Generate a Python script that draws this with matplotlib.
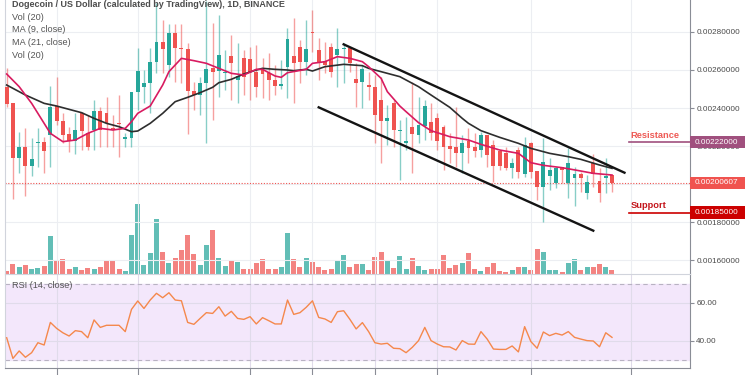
import matplotlib
matplotlib.use('Agg')
import matplotlib.pyplot as plt
import matplotlib.transforms as mtransforms
from matplotlib.patches import Rectangle
import numpy as np

plt.rcParams['font.family'] = ['Liberation Sans', 'DejaVu Sans']

# daily candles, prices in 1e-8 USD
opens = [250870, 242450, 213510, 219650, 209650, 221400, 221930, 225790, 241050, 233330,
         226310, 222800, 237190, 226660, 228420, 238420, 237540, 229650, 231930, 223680,
         224380, 248590, 250870, 253330, 264380, 274560, 262630, 279300, 271750, 270870,
         249120, 246840, 252980, 260870, 259650, 258240, 267370, 254730, 266140, 265610,
         259120, 260870, 258240, 254730, 251750, 261750, 267370, 271930, 264380, 280170,
         270520, 264910, 271930, 267890, 271050, 271400, 255090, 253860, 252100, 250870,
         244210, 233330, 242450, 228070, 221400, 230170, 225790, 230520, 232800, 234560,
         230170, 220000, 219300, 216140, 222800, 219300, 217890, 225790, 220520, 217540,
         216490, 208240, 217890, 205260, 221400, 207010, 198240, 204210, 200700, 209120,
         200700, 202980, 205260, 195440, 210870, 201580, 202980, 204730]
closes = [242100, 213510, 219650, 209650, 213160, 221930, 217540, 240700, 233330, 225790,
          222450, 228420, 228070, 219650, 238420, 228420, 231930, 228770, 231400, 224560,
          248590, 259650, 252980, 264380, 274910, 270870, 279300, 271400, 271230, 249120,
          246840, 252980, 260350, 259120, 267890, 258590, 263860, 256840, 256490, 259120,
          251230, 257890, 254730, 251580, 252450, 276140, 263510, 264380, 270870, 279300,
          263860, 262630, 259120, 270870, 271580, 263510, 253330, 260350, 250870, 236310,
          233330, 234560, 228420, 228420, 222630, 226310, 231050, 241050, 226660, 222800,
          219650, 218240, 216140, 221750, 218770, 217540, 225790, 215260, 209470, 209470,
          208240, 210870, 206490, 220520, 206490, 198240, 211400, 207370, 208240, 207370,
          210870, 205260, 202980, 201230, 205260, 195440, 204210, 200607]
highs = [260870, 242450, 227540, 229300, 224030, 229300, 224560, 251580, 256140, 237190,
         230170, 237540, 238070, 236310, 244210, 240700, 245960, 236310, 246840, 226660,
         248590, 271400, 260000, 271400, 295260, 286310, 284210, 284210, 284210, 274380,
         253860, 256490, 296500, 284560, 288950, 270520, 278420, 274030, 270520, 272280,
         273160, 266140, 268770, 262630, 265260, 281930, 287190, 275790, 286310, 291580,
         276660, 274910, 274030, 281930, 274030, 272280, 263510, 262630, 259120, 257370,
         256490, 241580, 244210, 233680, 235440, 253860, 245960, 244210, 242450, 237190,
         231050, 226660, 240700, 225790, 229300, 226660, 227540, 225790, 223160, 217890,
         219650, 213510, 219650, 224560, 222280, 207010, 224030, 213510, 209120, 209120,
         218770, 209120, 206490, 204730, 215790, 208240, 213510, 204730]
lows = [240700, 191930, 205610, 193680, 204380, 209120, 205610, 209120, 231050, 221400,
        217010, 215610, 217890, 217890, 217890, 219650, 219650, 219650, 214380, 219650,
        219650, 238940, 242450, 237540, 258240, 258240, 256490, 253860, 252980, 226310,
        238940, 236310, 221750, 233680, 245960, 249470, 244210, 242450, 246840, 244210,
        245960, 245090, 244210, 246840, 249820, 245090, 242450, 252980, 257370, 269650,
        254730, 258240, 256490, 251230, 252980, 259120, 240700, 239820, 244210, 221400,
        210870, 220520, 219650, 202100, 217890, 205610, 221400, 223160, 223160, 217890,
        207370, 210870, 209120, 205610, 210870, 214380, 214380, 209120, 201230, 207370,
        207370, 202980, 202980, 203860, 202980, 191580, 180170, 196840, 197720, 200350,
        192450, 188420, 195960, 191930, 198590, 190700, 195440, 195960]
volumes = [7, 27, 19, 25, 13, 15, 22, 112, 37, 42, 12, 18, 10, 15, 12, 19, 37, 37, 12, 8,
           115, 207, 25, 60, 163, 63, 30, 45, 70, 115, 58, 25, 85, 130, 45, 23, 38, 35, 13, 12,
           30, 43, 12, 12, 20, 120, 43, 20, 45, 35, 20, 10, 12, 40, 55, 18, 28, 27, 10, 50,
           63, 40, 15, 52, 12, 47, 22, 10, 12, 12, 55, 17, 25, 32, 62, 12, 8, 20, 30, 8,
           3, 10, 20, 20, 10, 73, 65, 10, 10, 3, 32, 43, 10, 20, 18, 28, 18, 10]
rsi = [41.7, 30.9, 34.8, 31.5, 33.9, 39.1, 37.9, 49.7, 46.6, 44.3, 42.6, 45.4, 44.9, 41.7,
       51.0, 47.1, 48.2, 48.2, 48.2, 44.9, 56.5, 60.9, 57.0, 61.4, 64.9, 62.6, 65.2, 61.4,
       61.0, 49.7, 48.7, 51.8, 54.8, 54.4, 57.9, 53.0, 55.5, 51.8, 51.3, 52.7, 48.9, 52.2,
       50.6, 48.9, 48.9, 61.4, 53.9, 54.8, 57.6, 61.0, 52.3, 51.5, 49.7, 55.3, 55.8, 51.3,
       46.3, 49.6, 44.9, 39.1, 38.4, 38.8, 36.2, 36.0, 33.9, 36.7, 40.2, 47.1, 40.2, 38.4,
       37.0, 36.9, 35.3, 40.2, 38.4, 38.3, 44.9, 41.0, 35.8, 35.6, 35.6, 37.4, 34.3, 47.5,
       39.7, 36.2, 44.7, 42.8, 44.0, 43.1, 44.9, 41.9, 41.0, 40.2, 40.0, 37.0, 44.3, 41.9]

# moving averages read at selected candles
ma9_idx = [0, 2, 4, 6, 7, 9, 11, 13, 15, 17, 19, 20, 21, 23, 25, 26, 28, 30, 32, 34, 36, 38,
           40, 41, 43, 44, 45, 48, 49, 51, 53, 55, 57, 58, 60, 61, 63, 64, 66, 68, 71, 74,
           76, 79, 82, 84, 86, 89, 92, 94, 97]
ma9_val = [257890, 251230, 242450, 231930, 226660, 222280, 223160, 226660, 229300, 228420,
           229300, 232800, 237190, 241050, 252100, 259120, 266140, 264910, 263510, 260870,
           258240, 257370, 260350, 260350, 256840, 256140, 258590, 260350, 263510, 264380,
           267020, 266140, 264380, 261750, 255610, 248590, 241050, 238070, 232280, 228070,
           224910, 223160, 220870, 217890, 216140, 211220, 209820, 208590, 206840, 205610,
           204730]
ma21_idx = [0, 3, 6, 8, 10, 12, 14, 16, 18, 20, 21, 23, 25, 27, 29, 31, 33, 34, 36, 38, 40,
            41, 43, 45, 46, 48, 49, 51, 54, 57, 58, 60, 62, 63, 65, 66, 68, 71, 73, 74, 76,
            79, 82, 84, 87, 90, 92, 95, 97]
ma21_val = [252100, 246840, 242450, 241050, 239290, 237540, 234560, 231930, 230170, 227540,
            227890, 231930, 237190, 243330, 245610, 248070, 250870, 253330, 255090, 257890,
            260000, 260870, 260350, 260000, 259650, 260350, 259470, 261750, 262980, 262280,
            260870, 259120, 257370, 256490, 252980, 251230, 246840, 240350, 234560, 231930,
            228070, 224560, 221400, 218770, 216140, 214380, 212980, 210000, 208240]

# channel drawn on the chart (candle index, price 1e-8)
upper_x = [54, 99]
upper_y = [273500, 205960]
lower_x = [50, 94]
lower_y = [240350, 175440]

grid_idx = [8, 21, 39, 49, 59, 69, 84, 100]
price_ticks = [160000, 180000, 200000, 220000, 240000, 260000, 280000]
hidden_tick = 200000   # label sits fully under the last-price tag
resistance = 222000
support = 185000
last_price = 200607

UP = '#26a69a'
DOWN = '#ef5350'
W, H = 750, 375


def fx(x):
    return x / W


def fy(y):
    return 1 - y / H


o = np.array(opens) / 1e8
c = np.array(closes) / 1e8
h = np.array(highs) / 1e8
l = np.array(lows) / 1e8
idx = np.arange(len(o))
colors = np.where(c >= o, UP, DOWN)

fig = plt.figure(figsize=(7.5, 3.75), dpi=100)
ax = fig.add_axes([fx(5), fy(273.5), fx(690) - fx(5), fy(0) - fy(273.5)])
ax_rsi = fig.add_axes([fx(5), fy(368.3), fx(690) - fx(5), fy(273.5) - fy(368.3)], sharex=ax)

# volume overlay
ax_vol = ax.twinx()
ax_vol.bar(idx, volumes, width=0.8, color=colors, alpha=0.72, linewidth=0)
ax_vol.set_ylim(0, 820)
ax_vol.set_yticks([])
for s in ax_vol.spines.values():
    s.set_visible(False)
ax.set_zorder(2)
ax_vol.set_zorder(1)
ax.patch.set_visible(False)

# candles
ax.vlines(idx, l, h, colors=colors, linewidth=1, alpha=0.55, zorder=3)
body = np.maximum(np.abs(c - o), 0.000005)
ax.bar(idx, body, bottom=np.minimum(o, c), width=0.62, color=colors, linewidth=0, zorder=4)

ax.plot(ma21_idx, np.array(ma21_val) / 1e8, color='#2e2e2e', lw=1.2, zorder=5)
ax.plot(ma9_idx, np.array(ma9_val) / 1e8, color='#d81b60', lw=1.2, zorder=5)
ax.plot(upper_x, np.array(upper_y) / 1e8, color='#141414', lw=1.7, zorder=6)
ax.plot(lower_x, np.array(lower_y) / 1e8, color='#141414', lw=1.7, zorder=6)

ax.axhline(last_price / 1e8, color=DOWN, lw=0.8, ls=(0, (1, 1.5)), zorder=2)

ax.set_xlim(-0.27, 109.5)
ax.set_ylim(0.0015290, 0.0029684)
ax.yaxis.tick_right()
ax.set_yticks(np.array(price_ticks) / 1e8)
ax.set_yticklabels(['' if p == hidden_tick else '{:.8f}'.format(p / 1e8) for p in price_ticks])
ax.tick_params(axis='y', length=3, color='#8a8d96', labelsize=5.9, labelcolor='#4a4a4a', pad=1.5)
ax.set_xticks(grid_idx)
ax.tick_params(axis='x', length=0, labelbottom=False)
ax.grid(True, color='#eceef2', lw=0.8)
ax.set_axisbelow(True)
ax.spines['top'].set_visible(False)
ax.spines['left'].set_color('#d1d4dc')
ax.spines['bottom'].set_color('#d1d4dc')
ax.spines['right'].set_color('#8a8d96')
for s in ax.spines.values():
    s.set_linewidth(0.8)

# price tags on the right scale
tr = mtransforms.blended_transform_factory(ax.transAxes, ax.transData)
half = 0.0000325


def tag(price, text, color):
    ax.add_patch(Rectangle((1.0, price - half), 0.0803, 2 * half, transform=tr,
                           facecolor=color, edgecolor='none', clip_on=False, zorder=10))
    ax.text(1.0073, price, text, transform=tr, color='white', fontsize=5.9,
            va='center', ha='left', clip_on=False, zorder=11)


tag(resistance / 1e8, '0.00222000', '#a0507e')
tag(last_price / 1e8, '0.00200607', '#f0534f')
tag(support / 1e8, '0.00185000', '#cc0000')

ax.plot([0.911, 1.0], [resistance / 1e8] * 2, transform=tr, color='#a0507e', lw=1.2,
        clip_on=False, zorder=9)
ax.plot([0.911, 1.0], [support / 1e8] * 2, transform=tr, color='#cc0000', lw=1.2,
        clip_on=False, zorder=9)
ax.annotate('Resistance', xy=(0.9134, resistance / 1e8), xycoords=tr, xytext=(0, 1.6),
            textcoords='offset points', va='bottom', ha='left', fontsize=6.7,
            fontweight='bold', color='#ee5a55', zorder=9)
ax.annotate('Support', xy=(0.9134, support / 1e8), xycoords=tr, xytext=(0, 1.6),
            textcoords='offset points', va='bottom', ha='left', fontsize=6.7,
            fontweight='bold', color='#c4161c', zorder=9)

# RSI pane
ax_rsi.axhspan(30, 70, color='#f3e7fb', zorder=0)
ax_rsi.axhline(70, color='#b8b2c2', lw=0.8, ls=(0, (4, 3)), zorder=1)
ax_rsi.axhline(30, color='#b8b2c2', lw=0.8, ls=(0, (4, 3)), zorder=1)
ax_rsi.plot(idx, rsi, color='#f5884c', lw=1.0, zorder=3)
ax_rsi.set_ylim(25.74, 75.25)
ax_rsi.yaxis.tick_right()
ax_rsi.set_yticks([40, 60])
ax_rsi.set_yticklabels(['40.00', '60.00'])
ax_rsi.tick_params(axis='y', length=3, color='#8a8d96', labelsize=5.9, labelcolor='#4a4a4a', pad=1.5)
ax_rsi.tick_params(axis='x', length=5, color='#8a8d96', labelbottom=False)
ax_rsi.grid(True, color='#e0dbea', lw=0.8, zorder=0.5)
ax_rsi.set_axisbelow(True)
ax_rsi.spines['top'].set_visible(False)
ax_rsi.spines['left'].set_color('#d1d4dc')
ax_rsi.spines['right'].set_color('#8a8d96')
ax_rsi.spines['bottom'].set_color('#8a8d96')
for s in ax_rsi.spines.values():
    s.set_linewidth(0.8)

# legend texts
fig.text(fx(11.7), fy(4.6), 'Dogecoin / US Dollar (calculated by TradingView), 1D, BINANCE',
         fontsize=6.5, fontweight='bold', color='#4c4c4c', va='center')
for y, t in [(17, 'Vol (20)'), (29.7, 'MA (9, close)'), (42.5, 'MA (21, close)'), (55, 'Vol (20)')]:
    fig.text(fx(11.7), fy(y), t, fontsize=6.6, color='#555555', va='center')
fig.text(fx(11.7), fy(285.8), 'RSI (14, close)', fontsize=6.6, color='#555555', va='center')

fig.savefig('out.png', dpi=100)
